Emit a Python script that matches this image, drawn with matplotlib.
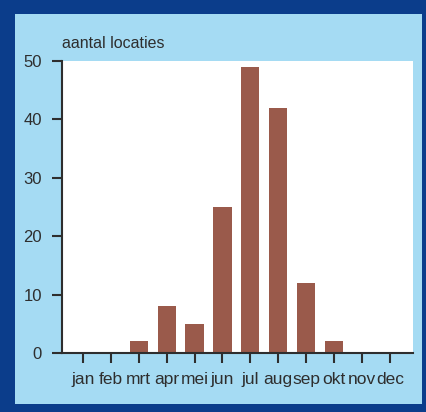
import matplotlib
matplotlib.use("Agg")
from matplotlib import pyplot as plt
from matplotlib.patches import Rectangle

plt.rcParams['font.family'] = ['Liberation Sans', 'DejaVu Sans']

months = ['jan', 'feb', 'mrt', 'apr', 'mei', 'jun', 'jul', 'aug', 'sep', 'okt', 'nov', 'dec']
counts = [0, 0, 2, 8, 5, 25, 49, 42, 12, 2, 0, 0]
y_ticks = [0, 10, 20, 30, 40, 50]

W, H = 426, 412
dark_blue = '#0b3d8b'
light_blue = '#a5dbf3'
bar_color = '#9a5a4b'
ink = '#2e2e2e'

fig = plt.figure(figsize=(W / 100, H / 100), dpi=100, facecolor=dark_blue)

# light blue panel inside the dark border
fig.patches.append(Rectangle((15 / W, 8 / H), 407 / W, 390 / H,
                             transform=fig.transFigure, facecolor=light_blue,
                             edgecolor='none', zorder=0))

ax = fig.add_axes([62 / W, 1 - 353 / H, (413 - 62) / W, (353 - 61) / H])
ax.set_zorder(2)
ax.set_facecolor('white')

x = range(len(months))
ax.bar(x, counts, width=0.65, color=bar_color, zorder=2)

ax.set_xlim(-0.75, 11.83)
ax.set_ylim(0, 50)
ax.set_xticks(list(x))
ax.set_xticklabels(months)
ax.set_yticks(y_ticks)

for side in ['top', 'right']:
    ax.spines[side].set_visible(False)
for side in ['left', 'bottom']:
    ax.spines[side].set_color(ink)
    ax.spines[side].set_linewidth(1.5)

ax.tick_params(axis='both', direction='out', length=7.5, width=1.5, color=ink,
               labelcolor=ink)
ax.tick_params(axis='x', pad=6, labelsize=12.5)
ax.tick_params(axis='y', pad=7, labelsize=12)

fig.text(62 / W, 1 - 44 / H, 'aantal locaties', ha='left', va='center',
         fontsize=11.5, color=ink)

fig.savefig('out.png', dpi=100, facecolor=dark_blue)
